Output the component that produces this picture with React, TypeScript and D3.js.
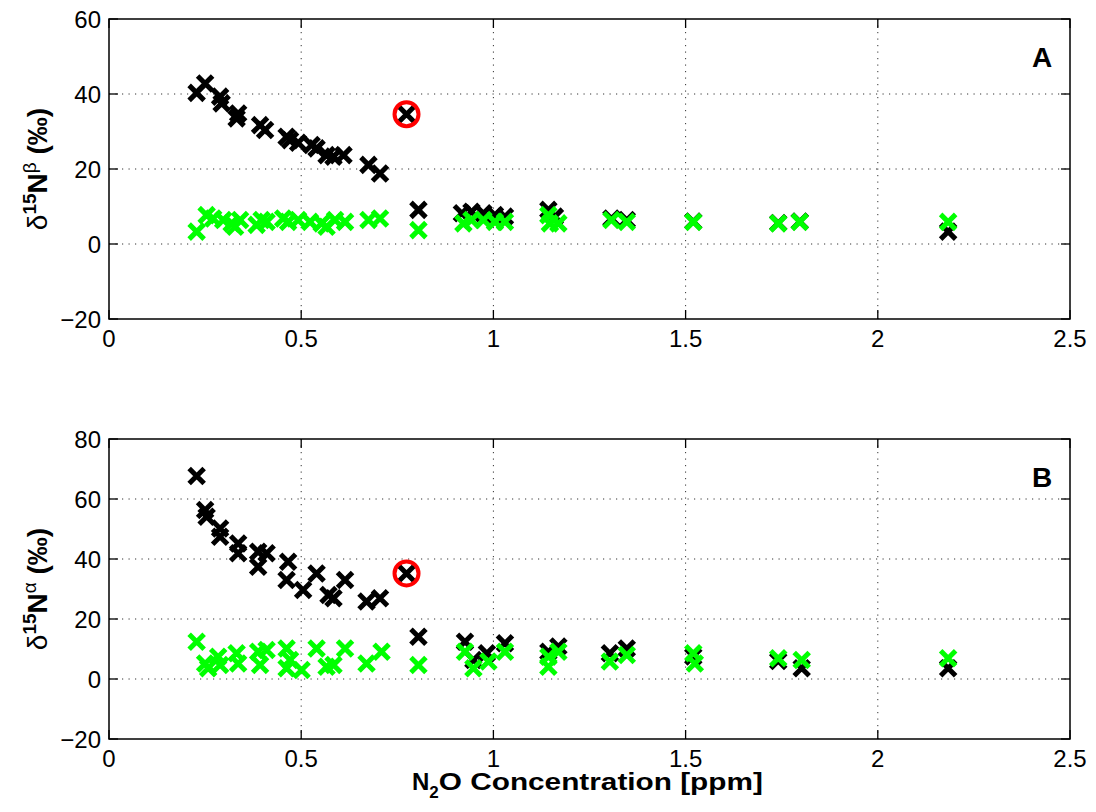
import React from "react";
import * as d3 from "d3";

type P = [number, number];

const xTicks = [0, 0.5, 1, 1.5, 2, 2.5];
const yTicksA = [-20, 0, 20, 40, 60];
const yTicksB = [-20, 0, 20, 40, 60, 80];

const blackA: P[] = [
  [0.228, 40.3], [0.25, 42.8], [0.289, 39.3], [0.293, 37.5], [0.336, 34.8], [0.332, 33.5],
  [0.393, 31.7], [0.406, 30.4], [0.462, 28.6], [0.471, 27.7], [0.492, 27.0], [0.527, 26.4],
  [0.54, 25.5], [0.566, 23.7], [0.584, 23.3], [0.61, 23.7], [0.675, 21.1], [0.705, 18.8],
  [0.774, 34.6], [0.805, 9.1], [0.918, 8.2], [0.943, 8.6], [0.974, 8.2], [1.004, 7.7],
  [1.03, 7.3], [1.143, 9.1], [1.16, 7.3], [1.307, 6.8], [1.347, 6.4], [1.52, 6.0],
  [1.741, 5.6], [1.797, 6.0], [2.183, 3.3],
];
const greenA: P[] = [
  [0.228, 3.3], [0.254, 7.7], [0.271, 6.8], [0.297, 6.4], [0.319, 5.5], [0.341, 6.4],
  [0.328, 4.6], [0.384, 5.1], [0.397, 6.4], [0.41, 5.9], [0.453, 6.8], [0.466, 5.9],
  [0.492, 6.4], [0.523, 5.9], [0.553, 5.5], [0.566, 4.6], [0.588, 6.4], [0.614, 5.9],
  [0.675, 6.4], [0.705, 6.8], [0.805, 3.7], [0.922, 5.5], [0.943, 6.4], [0.974, 6.4],
  [1.004, 5.9], [1.03, 5.9], [1.143, 7.7], [1.147, 5.5], [1.169, 5.5], [1.307, 6.4],
  [1.347, 5.9], [1.52, 5.9], [1.741, 5.5], [1.797, 5.9], [2.183, 5.9],
];
const blackB: P[] = [
  [0.228, 67.7], [0.25, 56.3], [0.254, 54.1], [0.289, 50.2], [0.289, 47.4], [0.336, 45.2],
  [0.336, 41.9], [0.388, 42.4], [0.41, 41.9], [0.388, 37.4], [0.466, 39.1], [0.462, 33.0],
  [0.505, 29.7], [0.54, 35.2], [0.571, 28.0], [0.584, 26.9], [0.614, 33.0], [0.67, 25.8],
  [0.705, 26.9], [0.774, 35.2], [0.805, 14.1], [0.926, 12.4], [0.948, 6.3], [0.983, 8.6],
  [1.03, 11.9], [1.143, 9.1], [1.169, 10.8], [1.303, 8.6], [1.347, 10.2], [1.52, 7.5],
  [1.741, 6.0], [1.802, 3.6], [2.183, 3.6],
];
const greenB: P[] = [
  [0.228, 12.4], [0.25, 5.2], [0.258, 3.6], [0.284, 7.4], [0.289, 4.7], [0.332, 8.6],
  [0.336, 5.2], [0.388, 9.1], [0.393, 4.7], [0.41, 9.7], [0.462, 10.2], [0.471, 6.3],
  [0.462, 3.6], [0.501, 3.0], [0.54, 10.2], [0.566, 4.1], [0.584, 4.7], [0.614, 10.2],
  [0.67, 5.2], [0.709, 9.1], [0.805, 4.7], [0.926, 9.1], [0.948, 3.6], [0.987, 5.8],
  [1.03, 9.1], [1.143, 7.4], [1.143, 4.1], [1.169, 9.1], [1.303, 5.8], [1.347, 8.0],
  [1.52, 8.6], [1.524, 5.2], [1.741, 6.9], [1.802, 6.3], [2.183, 6.9],
];
const circledA: P = [0.774, 34.6];
const circledB: P = [0.774, 35.2];

const FONT = "'Liberation Sans', Arial, Helvetica, sans-serif";
const X0 = 109;
const X1 = 1070;
const TL = 9;
const XMARK = "M-7.5,-7.5L7.5,7.5M-7.5,7.5L7.5,-7.5";

function Panel(props: {
  top: number;
  bottom: number;
  yTicks: number[];
  black: P[];
  green: P[];
  circled: P;
  letter: string;
  sup: string;
}) {
  const { top, bottom, yTicks, black, green, circled, letter, sup } = props;
  const x = d3.scaleLinear().domain([0, 2.5]).range([X0, X1]);
  const y = d3
    .scaleLinear()
    .domain([yTicks[0], yTicks[yTicks.length - 1]])
    .range([bottom, top]);
  const midY = (top + bottom) / 2;
  return (
    <g>
      {xTicks.slice(1, -1).map((t) => (
        <line key={"gx" + t} x1={x(t)} x2={x(t)} y1={top} y2={bottom}
          stroke="#333" strokeWidth={1} strokeDasharray="1.2,5.3" />
      ))}
      {yTicks.slice(1, -1).map((t) => (
        <line key={"gy" + t} x1={X0} x2={X1} y1={y(t)} y2={y(t)}
          stroke="#333" strokeWidth={1} strokeDasharray="1.2,5.3" />
      ))}
      {xTicks.map((t) => (
        <g key={"tx" + t}>
          <line x1={x(t)} x2={x(t)} y1={bottom} y2={bottom - TL} stroke="#000" strokeWidth={1.3} />
          <line x1={x(t)} x2={x(t)} y1={top} y2={top + TL} stroke="#000" strokeWidth={1.3} />
          <text x={x(t)} y={bottom + 28} textAnchor="middle" fontSize={24} fontFamily={FONT}>
            {String(t)}
          </text>
        </g>
      ))}
      {yTicks.map((t) => (
        <g key={"ty" + t}>
          <line x1={X0} x2={X0 + TL} y1={y(t)} y2={y(t)} stroke="#000" strokeWidth={1.3} />
          <line x1={X1} x2={X1 - TL} y1={y(t)} y2={y(t)} stroke="#000" strokeWidth={1.3} />
          <text x={101} y={y(t) + 8.5} textAnchor="end" fontSize={24} fontFamily={FONT}>
            {t < 0 ? "\u2212" + Math.abs(t) : String(t)}
          </text>
        </g>
      ))}
      {black.map((p, i) => (
        <path key={"b" + i} d={XMARK} transform={`translate(${x(p[0])},${y(p[1])})`}
          stroke="#000" strokeWidth={5} fill="none" />
      ))}
      {green.map((p, i) => (
        <path key={"g" + i} d={XMARK} transform={`translate(${x(p[0])},${y(p[1])})`}
          stroke="#00ff00" strokeWidth={5} fill="none" />
      ))}
      <circle cx={x(circled[0])} cy={y(circled[1])} r={12} fill="none" stroke="#ff0000" strokeWidth={4} />
      <rect x={X0} y={top} width={X1 - X0} height={bottom - top} fill="none" stroke="#000" strokeWidth={1.5} />
      <text x={1042} y={top + 48} textAnchor="middle" fontSize={28} fontWeight="bold" fontFamily={FONT}>
        {letter}
      </text>
      <text transform={`translate(47,${midY}) rotate(-90)`} textAnchor="middle"
        fontSize={28} fontWeight="bold" fontFamily={FONT}>
        <tspan fontWeight="normal">δ</tspan>
        <tspan fontSize={19} dy={-11}>15</tspan>
        <tspan dy={11}>N</tspan>
        <tspan fontSize={19} fontWeight="normal" dy={-11}>{sup}</tspan>
        <tspan dy={11}> (‰)</tspan>
      </text>
    </g>
  );
}

export default function App() {
  return (
    <svg width={1096} height={812} style={{ position: "absolute", left: 0, top: 0, background: "#fff" }}>
      <rect x={0} y={0} width={1096} height={812} fill="#fff" />
      <Panel top={19} bottom={319} yTicks={yTicksA} black={blackA} green={greenA}
        circled={circledA} letter="A" sup="β" />
      <Panel top={439} bottom={739} yTicks={yTicksB} black={blackB} green={greenB}
        circled={circledB} letter="B" sup="α" />
      <text x={412} y={790} fontSize={24} fontWeight="bold" fontFamily={FONT}>
        <tspan>N</tspan>
        <tspan fontSize={17} dy={8}>2</tspan>
        <tspan dy={-8} textLength={324} lengthAdjust="spacingAndGlyphs">O Concentration [ppm]</tspan>
      </text>
    </svg>
  );
}
